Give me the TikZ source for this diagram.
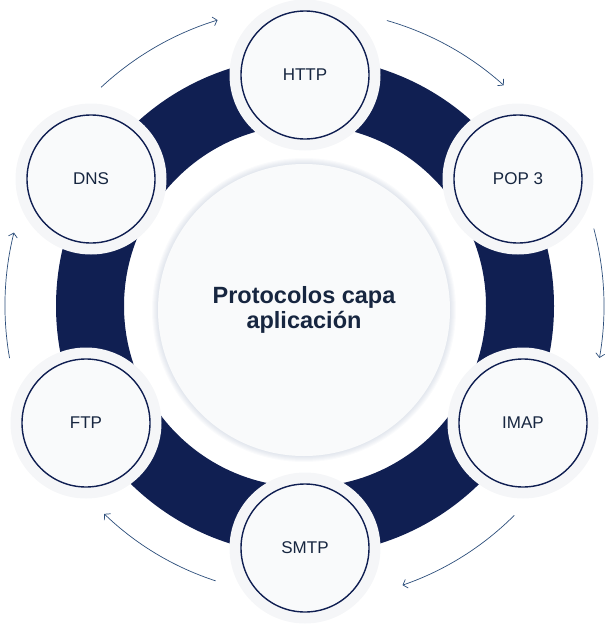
\documentclass[tikz,border=0pt]{standalone}
\usepackage{fontspec}
\setmainfont{Liberation Sans}
\usepackage{xcolor}
\usetikzlibrary{arrows.meta,calc}

\definecolor{ringnavy}{HTML}{101F52}
\definecolor{labelink}{HTML}{172640}
\definecolor{arrowblue}{HTML}{2B4D7A}
\definecolor{discfill}{HTML}{F9FAFB}
\definecolor{halofill}{HTML}{F5F6F8}
\definecolor{glow}{HTML}{8A9BB8}

\begin{document}
\begin{tikzpicture}[
    x=1pt, y=1pt,
    >={Straight Barb[length=4pt,width=9pt]},
    protocol/.style={circle, draw=ringnavy, line width=1.4pt, fill=discfill, minimum size=128pt, inner sep=0pt, text=labelink, font=\fontsize{17}{20}\selectfont},
    halo/.style={circle, fill=halofill, minimum size=151pt, inner sep=0pt},
    hub/.style={circle, fill=discfill, minimum size=292pt, inner sep=0pt, align=center, text=labelink, font=\fontsize{23.5}{25}\selectfont\bfseries},
    flow/.style={->, arrowblue, line width=0.7pt}
]
\useasboundingbox (0,0) rectangle (607,-624);
\coordinate (c) at (305,-306);

% ring
\fill[ringnavy, even odd rule] (c) circle (249) (c) circle (181);

% glow round the hub
\foreach \g in {6,5,4,3,2,1}
  \fill[glow, opacity=0.045] (304,-310) circle (146+\g);

\node[hub] (hub) at (304,-310) {Protocolos capa\\aplicación};

% halos
\node[halo] at (305,-75) {};
\node[halo] at (518,-179) {};
\node[halo] at (523,-423) {};
\node[halo] at (305,-548) {};
\node[halo] at (86,-423) {};
\node[halo] at (91,-179) {};

\node[protocol] (http) at (305,-75) {HTTP};
\node[protocol] (pop) at (518,-179) {POP 3};
\node[protocol] (imap) at (523,-423) {IMAP};
\node[protocol] (smtp) at (305,-548) {SMTP};
\node[protocol] (ftp) at (86,-423) {FTP};
\node[protocol] (dns) at (91,-179) {DNS};

% cycle arrows
\coordinate (dns-http) at ($(c)+(133:299)$);
\coordinate (http-pop) at ($(c)+(74:297)$);
\coordinate (pop-imap) at ($(c)+(15:299)$);
\coordinate (imap-smtp) at ($(c)+(-45:296)$);
\coordinate (smtp-ftp) at ($(c)+(-108:289)$);
\coordinate (ftp-dns) at ($(c)+(190:300)$);

\draw[flow] (dns-http) arc[start angle=133, end angle=107, radius=299];
\draw[flow] (http-pop) arc[start angle=74, end angle=48, radius=297];
\draw[flow] (pop-imap) arc[start angle=15, end angle=-10, radius=299];
\draw[flow] (imap-smtp) arc[start angle=-45, end angle=-71, radius=293];
\draw[flow] (smtp-ftp) arc[start angle=-108, end angle=-134, radius=289];
\draw[flow] (ftp-dns) arc[start angle=190, end angle=166, radius=302];
\end{tikzpicture}
\end{document}
